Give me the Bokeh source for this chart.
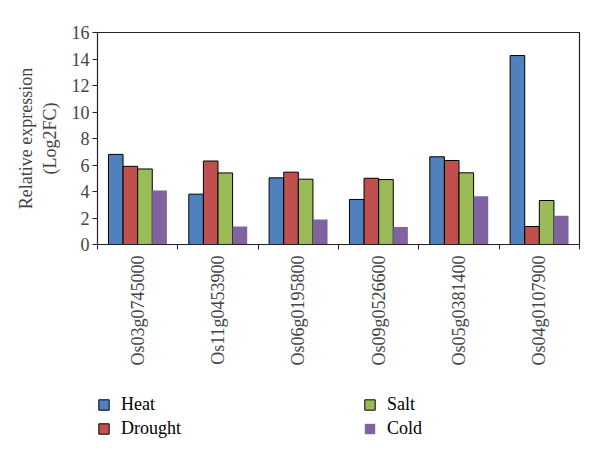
import numpy as np
from bokeh.plotting import figure
from bokeh.models import (Range1d, FixedTicker, Legend, LegendItem, ColumnDataSource)
from bokeh.layouts import column
from bokeh.embed import file_html
from bokeh.resources import INLINE

genes = ["Os03g0745000", "Os11g0453900", "Os06g0195800",
         "Os09g0526600", "Os05g0381400", "Os04g0107900"]
heat = [6.8, 3.8, 5.03, 3.4, 6.62, 14.26]
drought = [5.9, 6.3, 5.46, 5.0, 6.34, 1.36]
salt = [5.7, 5.4, 4.93, 4.9, 5.41, 3.32]
cold = [4.07, 1.36, 1.89, 1.33, 3.65, 2.17]
series = ["Heat", "Drought", "Salt", "Cold"]
colors = ["#4F81BD", "#C0504D", "#9BBB59", "#8064A2"]
yticks = [0, 2, 4, 6, 8, 10, 12, 14, 16]

FONT = "Liberation Serif"
n = len(genes)
centers = np.arange(n) + 0.5
w = 1 / 5.5

p = figure(width=592, height=388, output_backend="svg", toolbar_location=None,
           x_range=Range1d(0, n), y_range=Range1d(0, 16),
           min_border_left=97, min_border_right=13, min_border_top=32,
           min_border_bottom=144)
p.grid.visible = False
p.outline_line_color = "#222222"
p.outline_line_width = 1.2

vals = [heat, drought, salt, cold]
for k, (name, vs, c) in enumerate(zip(series, vals, colors)):
    src = ColumnDataSource(dict(x=centers + (k - 1.5) * w, top=vs))
    p.vbar(x="x", top="top", bottom=0, width=w, source=src, fill_color=c,
           line_color=None if name == "Cold" else "black", line_width=1)

# y axis
ya = p.yaxis[0]
ya.ticker = FixedTicker(ticks=yticks, minor_ticks=[])
ya.major_tick_in = 0
ya.major_tick_out = 5
ya.major_label_standoff = 3
ya.axis_label = "Relative expression\n(Log2FC)"
ya.axis_label_standoff = 9
ya.axis_label_text_font = FONT
ya.axis_label_text_font_style = "normal"
ya.axis_label_text_font_size = "18px"
ya.major_label_text_font = FONT
ya.major_label_text_font_size = "18px"
ya.axis_line_color = "#222222"
ya.major_tick_line_color = "#222222"

# x axis
xa = p.xaxis[0]
xa.ticker = FixedTicker(ticks=list(centers), minor_ticks=list(np.arange(n + 1)))
xa.major_label_overrides = {float(c): g for c, g in zip(centers, genes)}
xa.major_tick_line_color = None
xa.major_tick_in = 0
xa.major_tick_out = 5
xa.minor_tick_in = 0
xa.minor_tick_out = 5
xa.minor_tick_line_color = "#222222"
xa.major_label_standoff = 6
xa.major_label_orientation = np.pi / 2
xa.major_label_text_font = FONT
xa.major_label_text_font_size = "18px"
xa.axis_line_color = "#222222"

# legend figure (frame is aligned with the main plot's frame)
lf = figure(width=592, height=66, output_backend="svg", toolbar_location=None,
            x_range=Range1d(0, 1), y_range=Range1d(0, 1), min_border=0,
            x_axis_location=None, y_axis_location=None)
lf.grid.visible = False
lf.outline_line_color = None
rs = []
for name, c in zip(series, colors):
    src = ColumnDataSource(dict(x=[0.5], top=[-20], bottom=[-30]))
    r = lf.vbar(x="x", top="top", bottom="bottom", width=0.01, source=src,
                fill_color=c,
                line_color=None if name == "Cold" else "black", line_width=1)
    rs.append(r)

def mk_legend(items, loc):
    lg = Legend(items=items, location=loc, padding=0, margin=0,
                border_line_color=None, background_fill_alpha=0,
                glyph_width=13, glyph_height=13, label_standoff=11, spacing=3,
                label_text_font=FONT, label_text_font_size="18px",
                label_text_color="black", label_height=21)
    lf.add_layout(lg)

mk_legend([LegendItem(label=series[0], renderers=[rs[0]]),
           LegendItem(label=series[1], renderers=[rs[1]])], (0, 15))
mk_legend([LegendItem(label=series[2], renderers=[rs[2]]),
           LegendItem(label=series[3], renderers=[rs[3]])], (266, 15))

layout = column(p, lf, spacing=0)
open("out.html", "w").write(file_html(layout, INLINE))
